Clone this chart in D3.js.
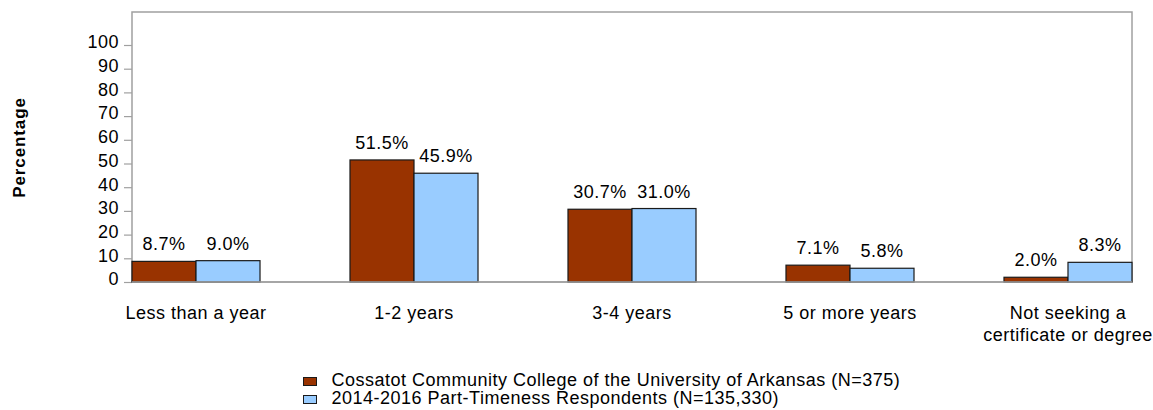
<!DOCTYPE html>
<html>
<head>
<meta charset="utf-8">
<script src="https://cdn.jsdelivr.net/npm/d3@7"></script>
<style>
  body { margin: 0; background: #fff; }
  text { font-family: "Liberation Sans", Arial, sans-serif; fill: #000; letter-spacing: 0.5px; }
</style>
</head>
<body>
<script>
  const categories = [["Less than a year"], ["1-2 years"], ["3-4 years"], ["5 or more years"], ["Not seeking a", "certificate or degree"]];
  const college = [8.7, 51.5, 30.7, 7.1, 2.0];
  const national = [9.0, 45.9, 31.0, 5.8, 8.3];
  const seriesNames = ["Cossatot Community College of the University of Arkansas (N=375)", "2014-2016 Part-Timeness Respondents (N=135,330)"];
  const colors = ["#993300", "#99ccff"];
  const yTicks = [0, 10, 20, 30, 40, 50, 60, 70, 80, 90, 100];

  const width = 1153, height = 410;
  const plot = {left: 132, right: 1132, top: 12, bottom: 282};

  const svg = d3.select('body').append('svg')
    .attr('width', width)
    .attr('height', height);

  const x = d3.scaleBand()
    .domain(d3.range(categories.length))
    .range([plot.left, plot.right])
    .paddingInner(0.4128)
    .paddingOuter(0);

  const xs = d3.scaleBand()
    .domain([0, 1])
    .range([0, x.bandwidth()]);

  const y = d3.scaleLinear()
    .domain([0, 100])
    .range([plot.bottom, 45]);

  // frame
  svg.append('rect')
    .attr('x', plot.left).attr('y', plot.top)
    .attr('width', plot.right - plot.left).attr('height', plot.bottom - plot.top)
    .attr('fill', 'none').attr('stroke', '#a0a0a0').attr('stroke-width', 1.5);

  // y axis
  const yAxis = svg.append('g')
    .attr('transform', 'translate(' + plot.left + ',0)')
    .call(d3.axisLeft(y).tickValues(yTicks).tickSize(8).tickPadding(5));
  yAxis.select('.domain').remove();
  yAxis.selectAll('line').attr('stroke', '#a0a0a0').attr('stroke-width', 1.2);
  yAxis.selectAll('text')
    .attr('font-size', '18px')
    .attr('dy', '0.16em')
    .attr('font-family', '"Liberation Sans", Arial, sans-serif');

  svg.append('text')
    .attr('transform', 'translate(25,147.5) rotate(-90)')
    .attr('text-anchor', 'middle')
    .attr('font-size', '17px')
    .attr('font-weight', 'bold')
    .style('letter-spacing', '0.9px')
    .text('Percentage');

  const data = categories.map(function(c, i) {
    return {i: i, vals: [college[i], national[i]]};
  });

  const groups = svg.selectAll('.grp')
    .data(data)
    .enter().append('g')
    .attr('class', 'grp')
    .attr('transform', function(d) { return 'translate(' + x(d.i) + ',0)'; });

  groups.selectAll('rect')
    .data(function(d) { return d.vals; })
    .enter().append('rect')
    .attr('x', function(d, j) { return xs(j); })
    .attr('y', function(d) { return y(d); })
    .attr('width', xs.bandwidth())
    .attr('height', function(d) { return y(0) - y(d); })
    .attr('fill', function(d, j) { return colors[j]; })
    .attr('stroke', '#1a1a1a')
    .attr('stroke-width', 1.2);

  groups.selectAll('.val')
    .data(function(d) { return d.vals; })
    .enter().append('text')
    .attr('class', 'val')
    .attr('x', function(d, j) { return xs(j) + xs.bandwidth() / 2; })
    .attr('y', function(d) { return y(d) - 11; })
    .attr('text-anchor', 'middle')
    .attr('font-size', '18px')
    .text(function(d) { return d.toFixed(1) + '%'; });

  // baseline
  svg.append('line')
    .attr('x1', plot.left).attr('x2', plot.right)
    .attr('y1', y(0)).attr('y2', y(0))
    .attr('stroke', '#a0a0a0').attr('stroke-width', 1.5);

  // category labels
  groups.each(function(d) {
    const t = d3.select(this).append('text')
      .attr('text-anchor', 'middle')
      .attr('font-size', '18px')
      .attr('y', 319);
    categories[d.i].forEach(function(line, k) {
      t.append('tspan')
        .attr('x', x.bandwidth() / 2)
        .attr('dy', k === 0 ? 0 : 22)
        .text(line);
    });
  });

  // legend
  const legend = svg.selectAll('.leg')
    .data(seriesNames)
    .enter().append('g')
    .attr('class', 'leg')
    .attr('transform', function(d, i) { return 'translate(303.5,' + (377.5 + i * 18) + ')'; });

  legend.append('rect')
    .attr('width', 13).attr('height', 8)
    .attr('fill', function(d, i) { return colors[i]; })
    .attr('stroke', '#1a1a1a').attr('stroke-width', 1);

  legend.append('text')
    .attr('x', 28).attr('y', 8.2)
    .attr('font-size', '18px')
    .text(function(d) { return d; });
</script>
</body>
</html>
